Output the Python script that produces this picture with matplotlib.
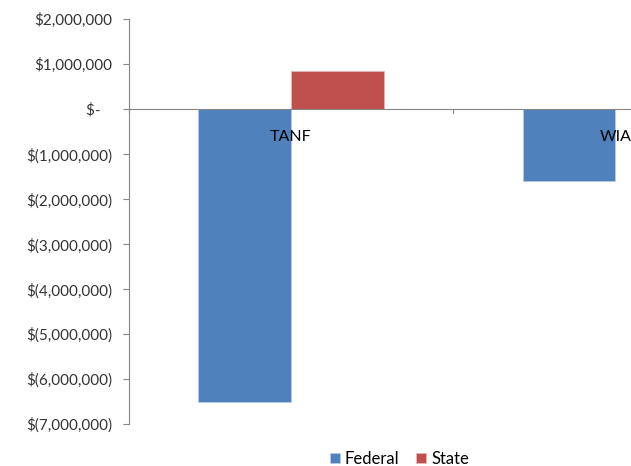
import numpy as np
import matplotlib.pyplot as plt

categories = ["TANF", "WIA"]
federal = [-6520000, -1590000]
state = [840000, 0]
series_names = ["Federal", "State"]
yticks = [2000000, 1000000, 0, -1000000, -2000000, -3000000,
          -4000000, -5000000, -6000000, -7000000]


def money(v):
    if v == 0:
        return "$-   "
    if v < 0:
        return "$({:,.0f})".format(-v)
    return "${:,.0f}".format(v)


plt.rcParams["font.family"] = ["Lato", "DejaVu Sans"]

fig = plt.figure(figsize=(6.31, 4.66), dpi=100)
# plot area runs past the right edge, as in the reference
ax = fig.add_axes([128.6 / 631, 1 - 424 / 466, 649 / 631, (424 - 19.3) / 466])

x = np.arange(len(categories))
w = 1 / 3.5
ax.bar(x - w / 2, federal, w, color="#4F81BD", label=series_names[0],
       edgecolor="#B9CDE5", linewidth=0.5)
ax.bar(x + w / 2, state, w, color="#C0504D", label=series_names[1],
       edgecolor="#E6B9B8", linewidth=0.5)

ax.set_xlim(-0.5, len(categories) - 0.5)
ax.set_ylim(-7000000, 2000000)
ax.set_yticks(yticks)
ax.set_yticklabels([money(v) for v in yticks], fontsize=11, color="#333333")
ax.tick_params(axis="y", direction="out", length=4, width=0.8, color="#868686", pad=8)

for s in ["top", "right", "bottom"]:
    ax.spines[s].set_visible(False)
ax.spines["left"].set_color("#868686")
ax.spines["left"].set_linewidth(0.8)

ax.axhline(0, color="#868686", linewidth=0.8, zorder=1)
ax.set_xticks([])
for b in np.arange(-0.5, len(categories), 1.0):
    ax.plot([b, b], [0, -90000], color="#868686", linewidth=0.8, clip_on=False)
for i, c in enumerate(categories):
    ax.text(i, -620000, c, ha="center", va="center", fontsize=11.5, color="black")

fig.legend(loc="lower center", bbox_to_anchor=(0.633, -0.034), ncol=2, frameon=False,
           fontsize=12, handlelength=0.6, handleheight=0.6, handletextpad=0.3,
           columnspacing=1.0)

fig.savefig("out.png", dpi=100)
